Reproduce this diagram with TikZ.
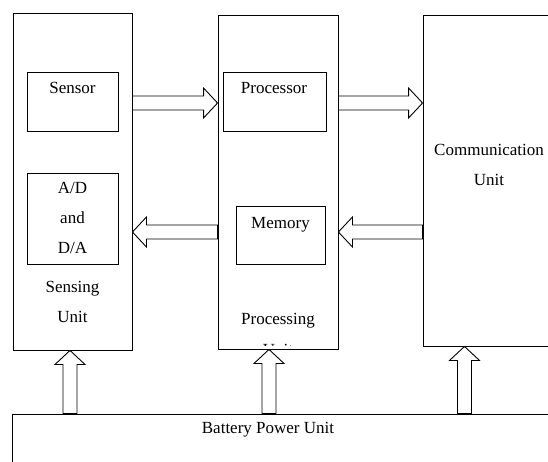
\documentclass[tikz,border=0pt]{standalone}
\usepackage{fontspec}
\setmainfont{Liberation Serif}
\usetikzlibrary{calc}

% hollow block arrow from #1 to #2 (tip at #2)
\newcommand{\fatarrow}[2]{%
  \coordinate (fa-from) at (#1);
  \coordinate (fa-to) at (#2);
  \coordinate (fa-base) at ($(fa-to)!14pt!(fa-from)$);
  \draw[blockarrow] ($(fa-from)!7pt!90:(fa-to)$) -- ($(fa-base)!7pt!90:(fa-to)$)
    -- ($(fa-base)!15pt!90:(fa-to)$) -- (fa-to) -- ($(fa-base)!15pt!-90:(fa-to)$)
    -- ($(fa-base)!7pt!-90:(fa-to)$) -- ($(fa-from)!7pt!-90:(fa-to)$) -- cycle;}

\begin{document}
\begin{tikzpicture}[x=1pt,y=-1pt,
  box/.style={draw,line width=0.9pt,inner sep=0pt},
  lbl/.style={align=center,inner sep=0pt,font=\fontsize{17}{30}\selectfont},
  blockarrow/.style={draw,line width=0.9pt,fill=white,line join=miter}]
\clip (0,0) rectangle (548,461);

\node[box,minimum width=119,minimum height=337] (sensing) at (72.5,181.5) {};
\node[box,minimum width=91,minimum height=59] (sensor) at (72.5,101.5) {};
\node[box,minimum width=91,minimum height=91] (adda) at (72.5,218.5) {};
\node[box,minimum width=120,minimum height=334] (processing) at (278,182) {};
\node[box,minimum width=103,minimum height=59] (processor) at (274.5,101.5) {};
\node[box,minimum width=89,minimum height=58] (memory) at (280.5,235) {};
\node[box,minimum width=200,minimum height=331] (comm) at (523,180.5) {};
\node[box,minimum width=600,minimum height=100] (battery) at (312,464) {};

\node[lbl] (sensor-l) at (72.5,88) {Sensor};
\node[lbl] (adda-l) at (72.5,218) {A/D\\and\\D/A};
\node[lbl] (sensing-l) at (72.5,302) {Sensing\\Unit};
\node[lbl] (processor-l) at (274,88) {Processor};
\node[lbl] (memory-l) at (280.5,225) {Memory};
\node[lbl] (processing-l) at (278,321) {Processing};
\begin{scope}
  \clip (218,300) rectangle (338,345.5);
  \node[lbl] (processing-u) at (278,350) {Unit};
\end{scope}
\node[lbl] (comm-l) at (489,165) {Communication\\Unit};
\node[lbl] (battery-l) at (268,430) {Battery Power Unit};

\fatarrow{sensing.east |- 0,103}{processing.west |- 0,103}
\fatarrow{processing.east |- 0,103}{comm.west |- 0,103}
\fatarrow{comm.west |- 0,232}{processing.east |- 0,232}
\fatarrow{processing.west |- 0,232}{sensing.east |- 0,232}
\fatarrow{battery.north -| 70,0}{sensing.south -| 70,0}
\fatarrow{battery.north -| 269,0}{processing.south -| 269,0}
\fatarrow{battery.north -| 464.5,0}{comm.south -| 464.5,0}
\end{tikzpicture}
\end{document}
